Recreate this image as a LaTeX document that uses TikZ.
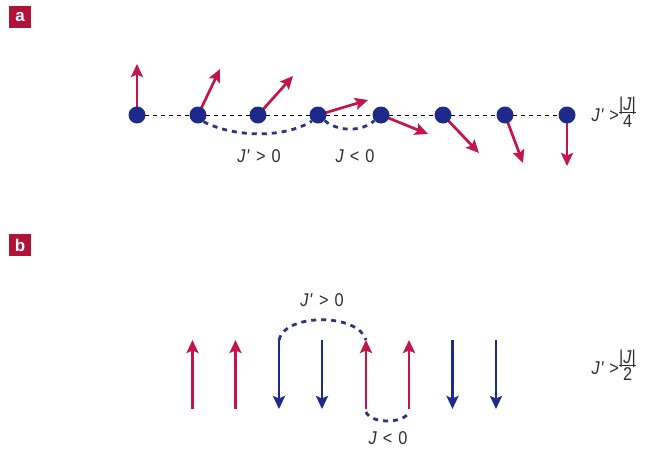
\documentclass[tikz,border=0pt]{standalone}
\usepackage{fontspec}
\setmainfont{Liberation Sans}
\newfontfamily\labfont[FakeStretch=0.88]{Liberation Sans}
\usetikzlibrary{arrows.meta}
\definecolor{spinred}{HTML}{C4154A}
\definecolor{spinblue}{HTML}{1E2A8A}
\definecolor{bondblue}{HTML}{2A3580}
\definecolor{labbox}{HTML}{B01238}
\definecolor{txt}{HTML}{2E2E2E}
\tikzset{
  spin/.style={line width=2.7pt, -{Stealth[length=13pt,width=12pt,inset=2.5pt]}},
  redspin/.style={spin, draw=spinred},
  bluespin/.style={spin, draw=spinblue},
  site/.style={circle, fill=spinblue, inner sep=0pt, minimum size=17pt},
  chain/.style={draw=black, line width=0.6pt, dash pattern=on 4pt off 4pt},
  bond/.style={draw=bondblue, line width=2.8pt, dash pattern=on 5pt off 5pt},
  panel/.style={fill=labbox, text=white, font=\bfseries\fontsize{17}{17}\selectfont, minimum size=22pt, inner sep=0pt},
  lab/.style={text=txt, font=\labfont\fontsize{18.5}{19}\selectfont, inner sep=0pt}
}
\newcommand{\Jp}{\textit{J\kern0.5pt\textquotesingle}}
\newcommand{\gt}{\hspace{6pt}>\hspace{6pt}}
\newcommand{\lt}{\hspace{6pt}<\hspace{6pt}}
\newcommand{\fracJ}[1]{\begin{tabular}{@{}c@{}}|\textit{J}|\\[-4pt]\hline\rule{0pt}{15pt}#1\end{tabular}}
\begin{document}
\begin{tikzpicture}[x=1pt,y=-1pt]
\useasboundingbox (0,0) rectangle (646,450);
% ---------------- panel a
\node[panel] (pa) at (20,17) {a};
\foreach \i/\x in {1/137,2/198,3/258,4/318,5/381,6/443,7/505,8/567}
  \coordinate (c\i) at (\x,115);
\foreach \i/\j in {1/2,2/3,3/4,4/5,5/6,6/7,7/8}
  \draw[chain] (c\i) -- (c\j);
\coordinate (t1) at (137,64);
\coordinate (t2) at (220,69);
\coordinate (t3) at (293,76);
\coordinate (t4) at (368,100);
\coordinate (t5) at (428,134);
\coordinate (t6) at (479,153);
\coordinate (t7) at (523,163);
\coordinate (t8) at (567,166);
\foreach \i in {1,...,8}
  \draw[redspin] (c\i) -- (t\i);
\foreach \i in {1,...,8}
  \node[site] (d\i) at (c\i) {};
\draw[bond] (d2.-50) .. controls (235,138) and (285,138) .. (d4.-135);
\draw[bond] (d4.-40) .. controls (338,132) and (362,132) .. (d5.-140);
\node[lab] (la1) at (259,156) {\Jp\gt0};
\node[lab] (la2) at (355,156) {\textit{J}\lt0};
\node[lab, anchor=east] (la3) at (619,115) {\Jp\hspace{5pt}>};
\node[lab, anchor=west] (la4) at (619,115) {\fracJ{4}};
% ---------------- panel b
\node[panel] (pb) at (20,245) {b};
\foreach \i/\x in {1/192.5,2/235.5,3/279,4/322,5/366,6/409,7/452.5,8/496}{
  \coordinate (top\i) at (\x,340);
  \coordinate (bot\i) at (\x,409);
}
\foreach \i in {1,2,5,6}
  \draw[redspin] (bot\i) -- (top\i);
\foreach \i in {3,4,7,8}
  \draw[bluespin] (top\i) -- (bot\i);
\draw[bond] (top3) .. controls (285,313) and (358,313) .. (top5);
\draw[bond] ([yshift=-3pt]bot5) .. controls (371,424) and (404,424) .. ([yshift=-3pt]bot6);
\node[lab] (lb1) at (322,300) {\Jp\gt0};
\node[lab] (lb2) at (388,438) {\textit{J}\lt0};
\node[lab, anchor=east] (lb3) at (619,368) {\Jp\hspace{5pt}>};
\node[lab, anchor=west] (lb4) at (619,368) {\fracJ{2}};
\end{tikzpicture}
\end{document}
